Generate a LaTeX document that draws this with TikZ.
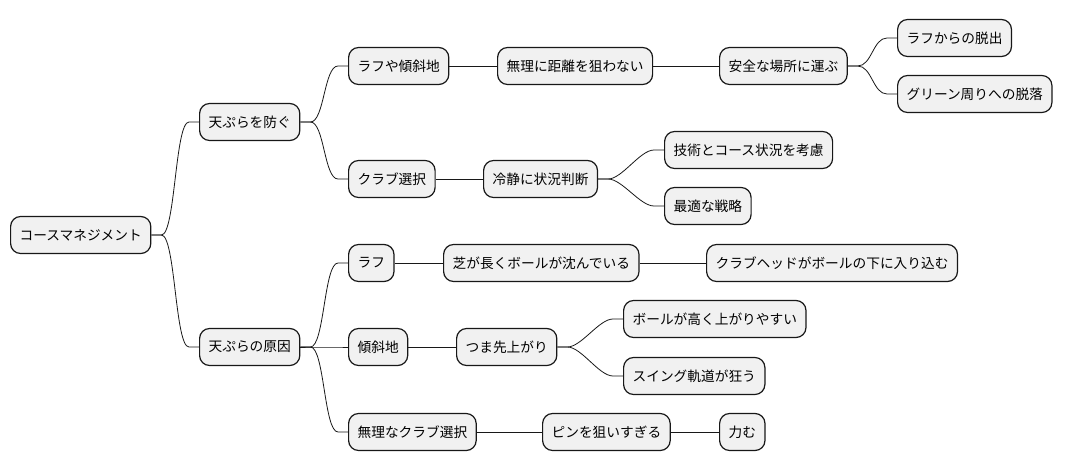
\documentclass[tikz,border=0pt]{standalone}
\usepackage{fontspec}
\setmainfont{Noto Sans CJK JP}
\usetikzlibrary{calc}
\definecolor{boxfill}{HTML}{F1F1F1}
\definecolor{boxline}{HTML}{181818}
\tikzset{
  mm/.style={draw=boxline, fill=boxfill, line width=1.2pt, rounded corners=10pt,
    minimum height=37pt, inner xsep=9pt, inner ysep=0pt, anchor=west,
    font=\fontsize{13.7}{16}\selectfont, text=black},
  link/.style={draw=boxline, line width=0.8pt},
  branch/.style={to path={-- ++(10pt,0) .. controls +(14pt,0) and +(-14pt,0) .. ($(\tikztotarget)+(-10pt,0)$) -- (\tikztotarget)}}
}
\begin{document}
\begin{tikzpicture}[x=1pt,y=-1pt]
\useasboundingbox (0,0) rectangle (1076,471);
\node[mm] (root) at (10,235) {コースマネジメント};
\node[mm] (a1) at (199,122) {天ぷらを防ぐ};
\node[mm] (a2) at (199,347) {天ぷらの原因};
\node[mm] (b1) at (348,66) {ラフや傾斜地};
\node[mm] (b2) at (348,179) {クラブ選択};
\node[mm] (b3) at (348,263) {ラフ};
\node[mm] (b4) at (348,347) {傾斜地};
\node[mm] (b5) at (348,432) {無理なクラブ選択};
\node[mm] (c1) at (497,66) {無理に距離を狙わない};
\node[mm] (c2) at (483,179) {冷静に状況判断};
\node[mm] (c3) at (443,263) {芝が長くボールが沈んでいる};
\node[mm] (c4) at (456,347) {つま先上がり};
\node[mm] (c5) at (542,432) {ピンを狙いすぎる};
\node[mm] (d1) at (719,66) {安全な場所に運ぶ};
\node[mm] (d2) at (664,150) {技術とコース状況を考慮};
\node[mm] (d3) at (664,206) {最適な戦略};
\node[mm] (d4) at (706,263) {クラブヘッドがボールの下に入り込む};
\node[mm] (d5) at (623,319) {ボールが高く上がりやすい};
\node[mm] (d6) at (623,376) {スイング軌道が狂う};
\node[mm] (d7) at (719,432) {力む};
\node[mm] (e1) at (897,38) {ラフからの脱出};
\node[mm] (e2) at (897,94) {グリーン周りへの脱落};
% curved branches
\draw[link] (root.east) to[branch] (a1.west);
\draw[link] (root.east) to[branch] (a2.west);
\draw[link] (a1.east) to[branch] (b1.west);
\draw[link] (a1.east) to[branch] (b2.west);
\draw[link] (a2.east) to[branch] (b3.west);
\draw[link] (a2.east) to[branch] (b4.west);
\draw[link] (a2.east) to[branch] (b5.west);
\draw[link] (d1.east) to[branch] (e1.west);
\draw[link] (d1.east) to[branch] (e2.west);
\draw[link] (c2.east) to[branch] (d2.west);
\draw[link] (c2.east) to[branch] (d3.west);
\draw[link] (c4.east) to[branch] (d5.west);
\draw[link] (c4.east) to[branch] (d6.west);
% straight links
\draw[link] (b1.east) -- (c1.west);
\draw[link] (c1.east) -- (d1.west);
\draw[link] (b2.east) -- (c2.west);
\draw[link] (b3.east) -- (c3.west);
\draw[link] (c3.east) -- (d4.west);
\draw[link] (b4.east) -- (c4.west);
\draw[link] (b5.east) -- (c5.west);
\draw[link] (c5.east) -- (d7.west);
\end{tikzpicture}
\end{document}
